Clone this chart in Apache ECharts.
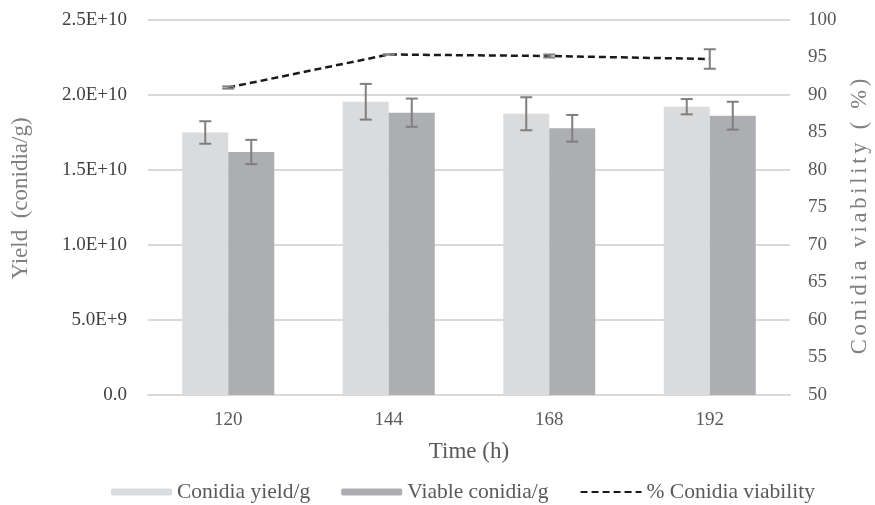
<!DOCTYPE html>
<html>
<head>
<meta charset="utf-8">
<script src="https://cdn.jsdelivr.net/npm/echarts@6/dist/echarts.min.js"></script>
<style>
  html, body { margin: 0; padding: 0; background: #fff; }
  #chart { width: 875px; height: 505px; }
</style>
</head>
<body>
<div id="chart"></div>
<script>
// Sampling times (h)
const categories = ['120', '144', '168', '192'];

// Conidia yield per gram and its standard deviation
const yieldValues = [1.75e10, 1.955e10, 1.875e10, 1.922e10];
const yieldErrors = [0.75e9, 1.19e9, 1.1e9, 0.51e9];

// Viable conidia per gram and its standard deviation
const viableValues = [1.62e10, 1.882e10, 1.778e10, 1.862e10];
const viableErrors = [0.81e9, 0.94e9, 0.89e9, 0.93e9];

// Conidia viability (%) and its standard deviation
const viabilityValues = [91.0, 95.4, 95.2, 94.8];
const viabilityErrors = [0.15, 0.0, 0.2, 1.3];

// Left-axis tick labels, from 0 upwards in steps of 5E+9
const yieldTickLabels = ['0.0', '5.0E+9', '1.0E+10', '1.5E+10', '2.0E+10', '2.5E+10'];

const FONT = '"Liberation Serif", "Times New Roman", serif';
const BAR_WIDTH = 46;
const ERR_COLOR = '#7f7f7f';

// Widen the tracking of a title by putting a six-per-em space between glyphs
function tracked(str) {
  return Array.from(str).join('\u2006');
}

// Error bar drawn as a vertical whisker with two caps
function errorBarRenderer(offset, capHalf) {
  return function (params, api) {
    const idx = api.value(0);
    const v = api.value(1);
    const e = api.value(2);
    const hi = api.coord([idx, v + e]);
    const lo = api.coord([idx, v - e]);
    const x = hi[0] + offset;
    const style = { stroke: ERR_COLOR, lineWidth: 2 };
    return {
      type: 'group',
      children: [
        { type: 'line', shape: { x1: x, y1: hi[1], x2: x, y2: lo[1] }, style },
        { type: 'line', shape: { x1: x - capHalf, y1: hi[1], x2: x + capHalf, y2: hi[1] }, style },
        { type: 'line', shape: { x1: x - capHalf, y1: lo[1], x2: x + capHalf, y2: lo[1] }, style }
      ]
    };
  };
}

function errData(values, errors) {
  return values.map((v, i) => [i, v, errors[i]]);
}

const chart = echarts.init(document.getElementById('chart'), null, { renderer: 'canvas' });

chart.setOption({
  animation: false,
  backgroundColor: '#ffffff',
  textStyle: { fontFamily: FONT },
  grid: {
    left: 148, right: 85, top: 20, bottom: 110,
    containLabel: false,
    outerBoundsMode: 'none'
  },
  legend: {
    left: 111,
    top: 481,
    padding: 0,
    itemWidth: 61,
    itemHeight: 7,
    itemGap: 31,
    textStyle: { fontFamily: FONT, fontSize: 21.5, color: '#595959' },
    data: [
      'Conidia yield/g',
      'Viable conidia/g',
      { name: '% Conidia viability', itemStyle: { opacity: 0 } }
    ]
  },
  xAxis: {
    type: 'category',
    data: categories,
    name: 'Time (h)',
    nameLocation: 'middle',
    nameGap: 45,
    nameTextStyle: { fontFamily: FONT, fontSize: 23, color: '#595959' },
    axisLine: { show: true, lineStyle: { color: '#d9d9d9', width: 2 } },
    axisTick: { show: false },
    axisLabel: { fontFamily: FONT, fontSize: 19, color: '#595959', margin: 16 }
  },
  yAxis: [
    {
      type: 'value',
      min: 0,
      max: 2.5e10,
      interval: 5e9,
      name: 'Yield  (conidia/g)',
      nameLocation: 'middle',
      nameGap: 116,
      nameTextStyle: { fontFamily: FONT, fontSize: 23, color: '#808080', padding: [0, 0, 0, 18] },
      axisLine: { show: false },
      axisTick: { show: false },
      splitLine: { show: true, lineStyle: { color: '#d9d9d9', width: 2 } },
      axisLabel: {
        fontFamily: FONT, fontSize: 19, color: '#404040', margin: 21,
        formatter: function (val) { return yieldTickLabels[Math.round(val / 5e9)]; }
      }
    },
    {
      type: 'value',
      min: 50,
      max: 100,
      interval: 5,
      name: tracked('Conidia viability ( %)'),
      nameLocation: 'middle',
      nameGap: 59,
      nameTextStyle: { fontFamily: FONT, fontSize: 22.5, color: '#808080', padding: [0, 18, 0, 0] },
      axisLine: { show: false },
      axisTick: { show: false },
      splitLine: { show: false },
      axisLabel: { fontFamily: FONT, fontSize: 19, color: '#595959', margin: 18 }
    }
  ],
  series: [
    {
      name: 'Conidia yield/g',
      type: 'bar',
      data: yieldValues,
      barWidth: BAR_WIDTH,
      barGap: '0%',
      itemStyle: { color: '#dadbdd' },
      z: 2
    },
    {
      name: 'Viable conidia/g',
      type: 'bar',
      data: viableValues,
      barWidth: BAR_WIDTH,
      barGap: '0%',
      itemStyle: { color: '#adaeb1' },
      z: 2
    },
    {
      name: '% Conidia viability',
      type: 'line',
      yAxisIndex: 1,
      data: viabilityValues,
      symbol: 'none',
      lineStyle: { color: '#1a1a1a', width: 2.5, type: [7, 4] },
      itemStyle: { color: '#1a1a1a' },
      z: 5
    },
    {
      type: 'custom',
      renderItem: errorBarRenderer(-BAR_WIDTH / 2, 6),
      data: errData(yieldValues, yieldErrors),
      encode: { x: 0, y: [1, 2] },
      z: 4
    },
    {
      type: 'custom',
      renderItem: errorBarRenderer(BAR_WIDTH / 2, 6),
      data: errData(viableValues, viableErrors),
      encode: { x: 0, y: [1, 2] },
      z: 4
    },
    {
      type: 'custom',
      yAxisIndex: 1,
      renderItem: errorBarRenderer(0, 6),
      data: errData(viabilityValues, viabilityErrors),
      encode: { x: 0, y: [1, 2] },
      z: 6
    }
  ]
});
</script>
</body>
</html>
